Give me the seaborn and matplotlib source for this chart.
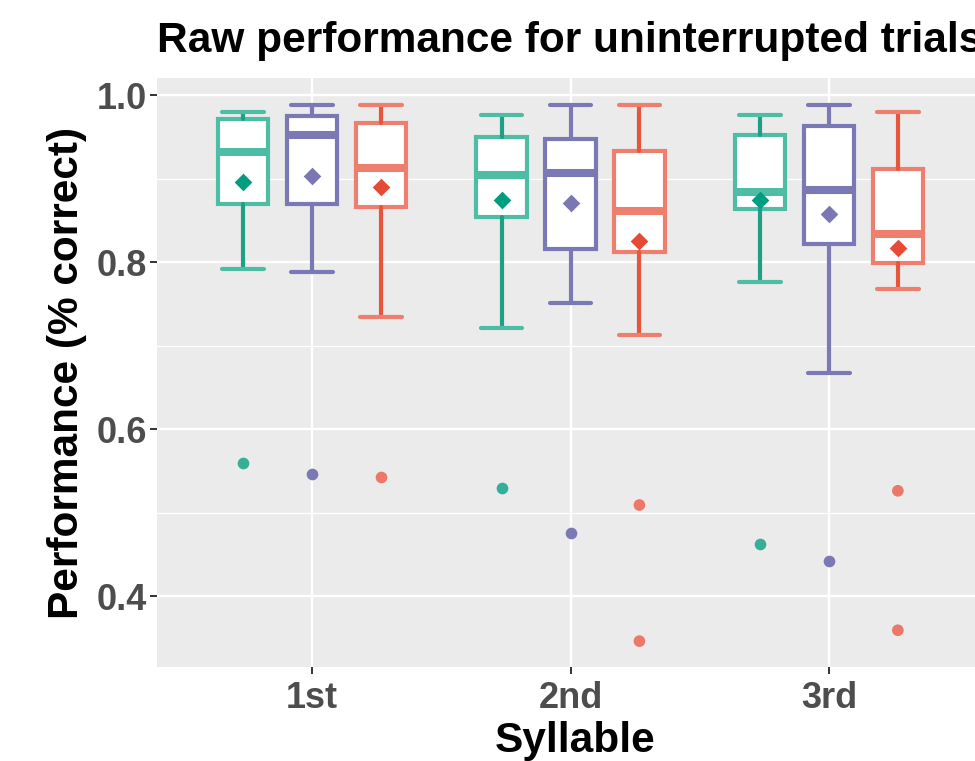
import numpy as np
import pandas as pd
import matplotlib
matplotlib.use("Agg")
import matplotlib.pyplot as plt
from matplotlib.ticker import FixedLocator, FormatStrFormatter
import seaborn as sns

# ---- data -------------------------------------------------------------
syllables = ["1st", "2nd", "3rd"]
groups = ["Group A", "Group B", "Group C"]

# box summaries: one row per syllable, one column per group
lower_whisker = [[0.792, 0.788, 0.734],
                 [0.721, 0.751, 0.713],
                 [0.776, 0.667, 0.768]]
q1 = [[0.869, 0.869, 0.866],
      [0.854, 0.816, 0.812],
      [0.863, 0.822, 0.799]]
median = [[0.932, 0.952, 0.913],
          [0.904, 0.907, 0.861],
          [0.884, 0.886, 0.834]]
q3 = [[0.971, 0.975, 0.966],
      [0.950, 0.947, 0.933],
      [0.952, 0.963, 0.911]]
upper_whisker = [[0.980, 0.988, 0.988],
                 [0.976, 0.988, 0.988],
                 [0.976, 0.988, 0.980]]
mean = [[0.896, 0.903, 0.890],
        [0.874, 0.871, 0.825],
        [0.874, 0.857, 0.817]]

outlier_syllable = ["1st", "1st", "1st", "2nd", "2nd", "2nd", "2nd",
                    "3rd", "3rd", "3rd", "3rd"]
outlier_group = ["Group A", "Group B", "Group C", "Group A", "Group B",
                 "Group C", "Group C", "Group A", "Group B", "Group C", "Group C"]
outlier_value = [0.559, 0.546, 0.542, 0.529, 0.475, 0.509, 0.346,
                 0.462, 0.442, 0.526, 0.359]

# ---- colours per group ---------------------------------------------------
box_colors = ["#4DBDA6", "#7A78B5", "#EE7F6E"]
whisker_colors = ["#1FA085", "#7A78B5", "#E8553D"]
mean_colors = ["#009E80", "#7B77B4", "#E64B35"]
point_colors = ["#2BAD92", "#7572B3", "#EC7261"]

# ---- style ------------------------------------------------------------
sns.set_theme(style="darkgrid", rc={
    "axes.facecolor": "#EBEBEB",
    "grid.color": "white",
})
plt.rcParams["font.family"] = ["Liberation Sans", "DejaVu Sans"]
plt.rcParams["font.weight"] = "bold"

fig = plt.figure(figsize=(9.75, 7.61), dpi=100)
ax = fig.add_axes([157 / 975, 1 - 667 / 761, 827 / 975, 589 / 761])

# ---- means and outliers (seaborn, dodged by group) ------------------------
mean_df = pd.DataFrame({
    "syllable": np.repeat(syllables, len(groups)),
    "group": groups * len(syllables),
    "value": np.ravel(mean),
})
out_df = pd.DataFrame({
    "syllable": outlier_syllable,
    "group": outlier_group,
    "value": outlier_value,
})

sns.stripplot(data=out_df, x="syllable", y="value", hue="group",
              order=syllables, hue_order=groups, palette=point_colors,
              dodge=True, jitter=False, size=8.4, linewidth=0,
              alpha=0.95, legend=False, ax=ax, zorder=5)
sns.stripplot(data=mean_df, x="syllable", y="value", hue="group",
              order=syllables, hue_order=groups, palette=mean_colors,
              dodge=True, jitter=False, size=9.0, marker="D", linewidth=0,
              legend=False, ax=ax, zorder=6)

# ---- boxes from the summary statistics ------------------------------------
n_groups = len(groups)
dodge_step = 0.8 / n_groups
for g in range(n_groups):
    stats = []
    for s in range(len(syllables)):
        stats.append({
            "whislo": lower_whisker[s][g],
            "q1": q1[s][g],
            "med": median[s][g],
            "q3": q3[s][g],
            "whishi": upper_whisker[s][g],
            "fliers": [],
        })
    positions = np.arange(len(syllables)) + (g - (n_groups - 1) / 2) * dodge_step
    ax.bxp(stats, positions=positions, widths=0.195, capwidths=0.16,
           patch_artist=True, showfliers=False, manage_ticks=False,
           boxprops=dict(facecolor="white", edgecolor=box_colors[g],
                         linewidth=3.0),
           medianprops=dict(color=box_colors[g], linewidth=5.8,
                            solid_capstyle="butt"),
           whiskerprops=dict(color=whisker_colors[g], linewidth=3.0),
           capprops=dict(color=box_colors[g], linewidth=3.0),
           zorder=3)

# ---- axes -------------------------------------------------------------
ax.set_xlim(-0.6, 2.6)
ax.set_ylim(0.3150, 1.0204)
ax.set_xticks(range(len(syllables)))
ax.set_xticklabels(syllables)
ax.yaxis.set_major_locator(FixedLocator([0.4, 0.6, 0.8, 1.0]))
ax.yaxis.set_minor_locator(FixedLocator([0.5, 0.7, 0.9]))
ax.yaxis.set_major_formatter(FormatStrFormatter("%.1f"))

ax.set_axisbelow(True)
ax.grid(False)
ax.xaxis.grid(True, which="major", color="white", linewidth=1.7)
ax.yaxis.grid(True, which="major", color="white", linewidth=1.7)
ax.yaxis.grid(True, which="minor", color="white", linewidth=0.9)
for spine in ax.spines.values():
    spine.set_visible(False)

ax.tick_params(axis="both", which="major", length=5, width=1.4,
               color="#333333", labelcolor="#4D4D4D", labelsize=26)
ax.tick_params(axis="x", which="major", pad=5, bottom=True)
ax.tick_params(axis="y", which="major", pad=2, left=True)
ax.tick_params(which="minor", length=0)
for lab in ax.get_xticklabels() + ax.get_yticklabels():
    lab.set_fontweight("bold")

ax.set_xlabel("Syllable", fontsize=30.5, fontweight="bold", color="black")
ax.xaxis.set_label_coords(0.505, -0.1443)
ax.xaxis.label.set_va("baseline")
ax.set_ylabel("Performance (% correct)", fontsize=30.5, fontweight="bold",
              color="black")
ax.yaxis.set_label_coords(-0.0845, 0.5)

ax.set_title("Raw performance for uninterrupted trials", loc="left",
             fontsize=30.5, fontweight="bold", color="black", pad=18.7)

fig.savefig("out.png", dpi=100, facecolor="white")
